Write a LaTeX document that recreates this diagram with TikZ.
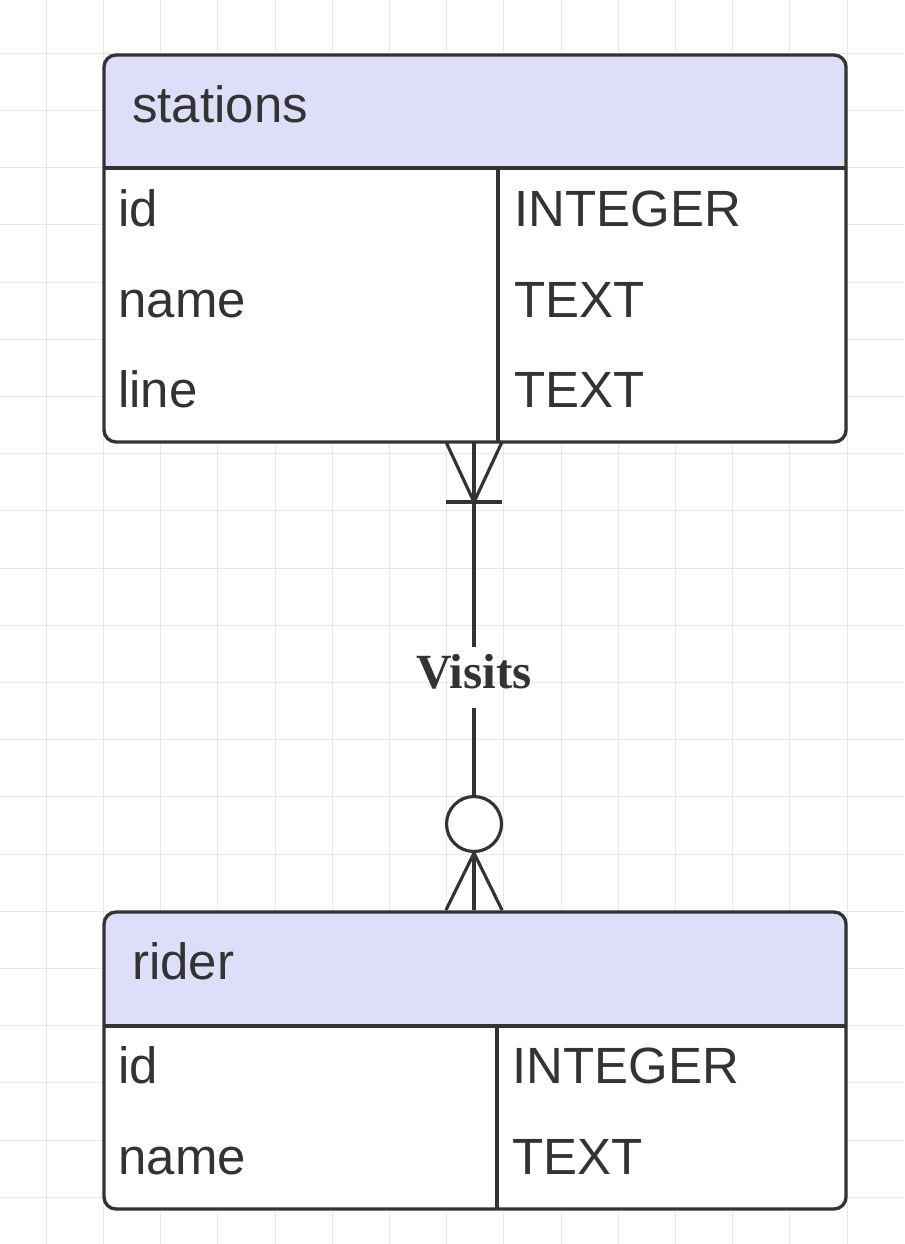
\documentclass[tikz,border=0pt]{standalone}
\usepackage{fontspec}
\setmainfont{Liberation Sans}
\newfontfamily\relfont{Liberation Serif}
\usetikzlibrary{positioning}
\definecolor{ink}{HTML}{333333}
\definecolor{headfill}{HTML}{DEDEF9}
\definecolor{gridcol}{HTML}{E8E8E8}

\begin{document}
\begin{tikzpicture}
  [x=0.02cm,y=-0.02cm,
  gridline/.style={draw=gridcol,line width=0.5pt},
  tablebox/.style={draw=ink,line width=1.9pt,rounded corners=0.24cm},
  rule/.style={draw=ink,line width=1.9pt},
  cell/.style={anchor=base west,text=ink,inner sep=0pt,font=\fontsize{29}{34}\selectfont},
  rel/.style={draw=ink,line width=1.8pt},
  rellabel/.style={anchor=base,text=ink,inner sep=0pt,text height=0.82cm,text depth=0.4cm,font=\relfont\bfseries\fontsize{28}{32}\selectfont},
  zero/.style={circle,draw=ink,fill=white,line width=1.8pt,inner sep=0pt,minimum size=1.1cm}]
  \useasboundingbox (0,0) rectangle (904,1244);
  \fill[white] (0,0) rectangle (904,1244);
  \foreach \i in {0,...,14}
    \draw[gridline] ({46.3+57.2*\i},0) -- ({46.3+57.2*\i},1244);
  \foreach \j in {0,...,21}
    \draw[gridline] (0,{53.3+57.2*\j}) -- (904,{53.3+57.2*\j});

  \fill[white,rounded corners=0.24cm] (104,55) rectangle (846,442);
  \begin{scope}
    \clip (104,55) rectangle (846,168);
    \fill[headfill,rounded corners=0.24cm] (104,55) rectangle (846,442);
  \end{scope}
  \draw[tablebox] (104,55) rectangle (846,442);
  \draw[rule] (104,168) -- (846,168);
  \draw[rule] (498,168) -- (498,442);
  \node[cell] (sttitle) at (132,122) {stations};
  \node[cell] (stid) at (118,226) {id};
  \node[cell] (stname) at (118,317) {name};
  \node[cell] (stline) at (118,407) {line};
  \node[cell] (stidtype) at (514,226) {INTEGER};
  \node[cell] (stnametype) at (514,317) {TEXT};
  \node[cell] (stlinetype) at (514,407) {TEXT};

  \fill[white,rounded corners=0.24cm] (104,912) rectangle (846,1209);
  \begin{scope}
    \clip (104,912) rectangle (846,1026);
    \fill[headfill,rounded corners=0.24cm] (104,912) rectangle (846,1209);
  \end{scope}
  \draw[tablebox] (104,912) rectangle (846,1209);
  \draw[rule] (104,1026) -- (846,1026);
  \draw[rule] (497,1026) -- (497,1209);
  \node[cell] (rdtitle) at (132,979) {rider};
  \node[cell] (rdid) at (118,1083) {id};
  \node[cell] (rdname) at (118,1174) {name};
  \node[cell] (rdidtype) at (512,1083) {INTEGER};
  \node[cell] (rdnametype) at (512,1174) {TEXT};

  \coordinate (sttop) at (474,442);
  \coordinate (stleft) at (446,442);
  \coordinate (stright) at (502,442);
  \coordinate (stfork) at (474,502);
  \coordinate (rdtop) at (474,910);
  \coordinate (rdleft) at (446,910);
  \coordinate (rdright) at (502,910);

  \node[rellabel] (visits) at (474,688) {Visits};
  \node[zero] (none) at (474,824) {};

  \draw[rel] (sttop) -- (visits.north);
  \draw[rel] (stleft) -- (stfork) -- (stright);
  \draw[rel] (446,502) -- (502,502);
  \draw[rel] (visits.south) -- (none.north);
  \draw[rel] (none.south) -- (rdtop);
  \draw[rel] (rdleft) -- (none.south) -- (rdright);
\end{tikzpicture}
\end{document}
